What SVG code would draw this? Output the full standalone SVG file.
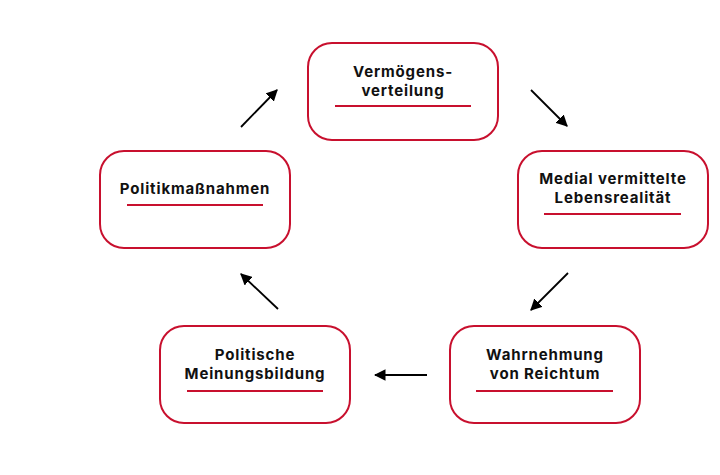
<svg xmlns="http://www.w3.org/2000/svg" width="720" height="475" viewBox="0 0 720 475">
<style>
.box{fill:#fff;stroke:#c8102e;stroke-width:2}
.ul{stroke:#c8102e;stroke-width:2}
.t{font-family:Inter,"Open Sans","Liberation Sans",sans-serif;font-weight:700;font-size:15px;letter-spacing:0.85px;fill:#111;text-anchor:middle}
.c{stroke:#000;stroke-width:1.8;fill:none;marker-end:url(#ah)}
</style>
<defs>
<marker id="ah" viewBox="0 0 10 10" refX="9" refY="5" markerWidth="6.5" markerHeight="6.5" markerUnits="strokeWidth" orient="auto">
<path d="M0,0 L10,5 L0,10 z" fill="#000"/>
</marker>
</defs>
<rect width="720" height="475" fill="#fff"/>
<g id="connectors">
<line class="c" x1="531" y1="90" x2="567" y2="126"/>
<line class="c" x1="568" y1="273" x2="531" y2="310"/>
<line class="c" x1="427" y1="375" x2="375" y2="375"/>
<line class="c" x1="278" y1="309" x2="241" y2="274"/>
<line class="c" x1="241" y1="127" x2="277" y2="90"/>
</g>
<g id="n1">
<rect class="box" x="308" y="43" width="190" height="97" rx="24"/>
<text class="t" x="403" y="77.3">Vermögens-</text>
<text class="t" x="403" y="95.8">verteilung</text>
<line class="ul" x1="335" y1="106" x2="471" y2="106"/>
</g>
<g id="n2">
<rect class="box" x="518" y="151" width="190" height="97" rx="24"/>
<text class="t" x="613" y="184.3">Medial vermittelte</text>
<text class="t" x="613" y="202.8">Lebensrealität</text>
<line class="ul" x1="544" y1="214" x2="681" y2="214"/>
</g>
<g id="n3">
<rect class="box" x="450" y="326" width="190" height="97" rx="24"/>
<text class="t" x="545" y="360.3">Wahrnehmung</text>
<text class="t" x="545" y="378.8">von Reichtum</text>
<line class="ul" x1="476" y1="391" x2="613" y2="391"/>
</g>
<g id="n4">
<rect class="box" x="160" y="326" width="190" height="97" rx="24"/>
<text class="t" x="255" y="360.3">Politische</text>
<text class="t" x="255" y="378.8">Meinungsbildung</text>
<line class="ul" x1="187" y1="391" x2="323" y2="391"/>
</g>
<g id="n5">
<rect class="box" x="100" y="151" width="190" height="97" rx="24"/>
<text class="t" x="195" y="194">Politikmaßnahmen</text>
<line class="ul" x1="127" y1="205" x2="263" y2="205"/>
</g>
</svg>
